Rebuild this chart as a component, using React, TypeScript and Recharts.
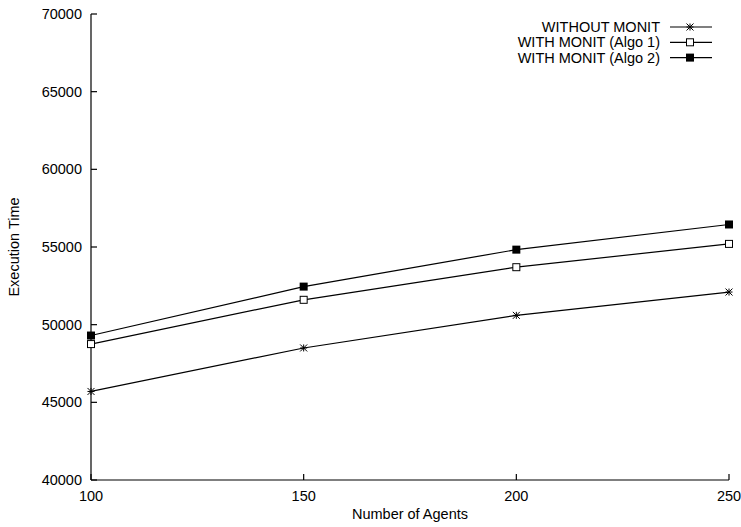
import { LineChart, Line, XAxis, YAxis, Legend } from 'recharts';

const agents = [100, 150, 200, 250];
const withoutMonit = [45700, 48500, 50600, 52100];
const withMonitAlgo1 = [48750, 51600, 53700, 55200];
const withMonitAlgo2 = [49300, 52450, 54830, 56450];
const yTicks = [40000, 45000, 50000, 55000, 60000, 65000, 70000];
const seriesNames = ['WITHOUT MONIT', 'WITH MONIT (Algo 1)', 'WITH MONIT (Algo 2)'];

const data = agents.map((a, i) => ({
  agents: a,
  without: withoutMonit[i],
  algo1: withMonitAlgo1[i],
  algo2: withMonitAlgo2[i],
}));

const FONT = '"Liberation Sans", Arial, Helvetica, sans-serif';
const FS = 14.5;

function StarDot({ cx, cy }: any) {
  if (cx == null || cy == null) return null;
  const r = 3.5;
  return (
    <g stroke="#000" strokeWidth={1}>
      <line x1={cx - r} y1={cy} x2={cx + r} y2={cy} />
      <line x1={cx} y1={cy - r} x2={cx} y2={cy + r} />
      <line x1={cx - r} y1={cy - r} x2={cx + r} y2={cy + r} />
      <line x1={cx - r} y1={cy + r} x2={cx + r} y2={cy - r} />
    </g>
  );
}

function OpenSquare({ cx, cy }: any) {
  if (cx == null || cy == null) return null;
  return <rect x={cx - 3.5} y={cy - 3.5} width={7} height={7} fill="#fff" stroke="#000" strokeWidth={1} />;
}

function FilledSquare({ cx, cy }: any) {
  if (cx == null || cy == null) return null;
  return <rect x={cx - 4} y={cy - 4} width={8} height={8} fill="#000" />;
}

const markers = [StarDot, OpenSquare, FilledSquare];

function LegendBox() {
  return (
    <svg width={741} height={70} style={{ display: 'block' }}>
      {seriesNames.map((name, i) => {
        const y = 27 + i * 15.3;
        const M = markers[i];
        return (
          <g key={name}>
            <text x={660} y={y + 5} textAnchor="end" fontSize={FS} fontFamily={FONT} fill="#000">
              {name}
            </text>
            <line x1={670} y1={y} x2={712} y2={y} stroke="#000" strokeWidth={1.2} />
            <M cx={690} cy={y} />
          </g>
        );
      })}
    </svg>
  );
}

function YLabel({ viewBox }: any) {
  const x = 14;
  const y = viewBox.y + viewBox.height / 2;
  return (
    <text x={x} y={y} transform={`rotate(-90, ${x}, ${y})`} textAnchor="middle" dominantBaseline="central" fontSize={FS} fontFamily={FONT} fill="#000">
      Execution Time
    </text>
  );
}

export default function App() {
  return (
    <div style={{ position: 'absolute', left: 0, top: 0, width: 741, height: 527, background: '#fff' }}>
      <LineChart width={741} height={527} data={data} margin={{ top: 14, right: 12, left: 0, bottom: 0 }}>
        <XAxis
          dataKey="agents"
          type="number"
          domain={[100, 250]}
          ticks={agents}
          height={47}
          stroke="#000"
          strokeWidth={1.2}
          tickSize={-6}
          tickMargin={17}
          tick={{ fill: '#000', fontSize: FS, fontFamily: FONT }}
          label={{ value: 'Number of Agents', position: 'insideBottom', offset: 8, fill: '#000', fontSize: FS, fontFamily: FONT }}
        />
        <YAxis
          type="number"
          domain={[40000, 70000]}
          ticks={yTicks}
          width={91}
          stroke="#000"
          strokeWidth={1.2}
          tickSize={-6}
          tickMargin={15}
          tick={{ fill: '#000', fontSize: FS, fontFamily: FONT }}
          label={<YLabel />}
        />
        <Legend
          layout="vertical"
          align="center"
          verticalAlign="middle"
          wrapperStyle={{ position: 'absolute', left: 0, top: 0, width: 741, height: 70 }}
          content={() => <LegendBox />}
        />
        <Line type="linear" dataKey="without" stroke="#000" strokeWidth={1.2} dot={<StarDot />} activeDot={false} isAnimationActive={false} />
        <Line type="linear" dataKey="algo1" stroke="#000" strokeWidth={1.2} dot={<OpenSquare />} activeDot={false} isAnimationActive={false} />
        <Line type="linear" dataKey="algo2" stroke="#000" strokeWidth={1.2} dot={<FilledSquare />} activeDot={false} isAnimationActive={false} />
      </LineChart>
    </div>
  );
}
